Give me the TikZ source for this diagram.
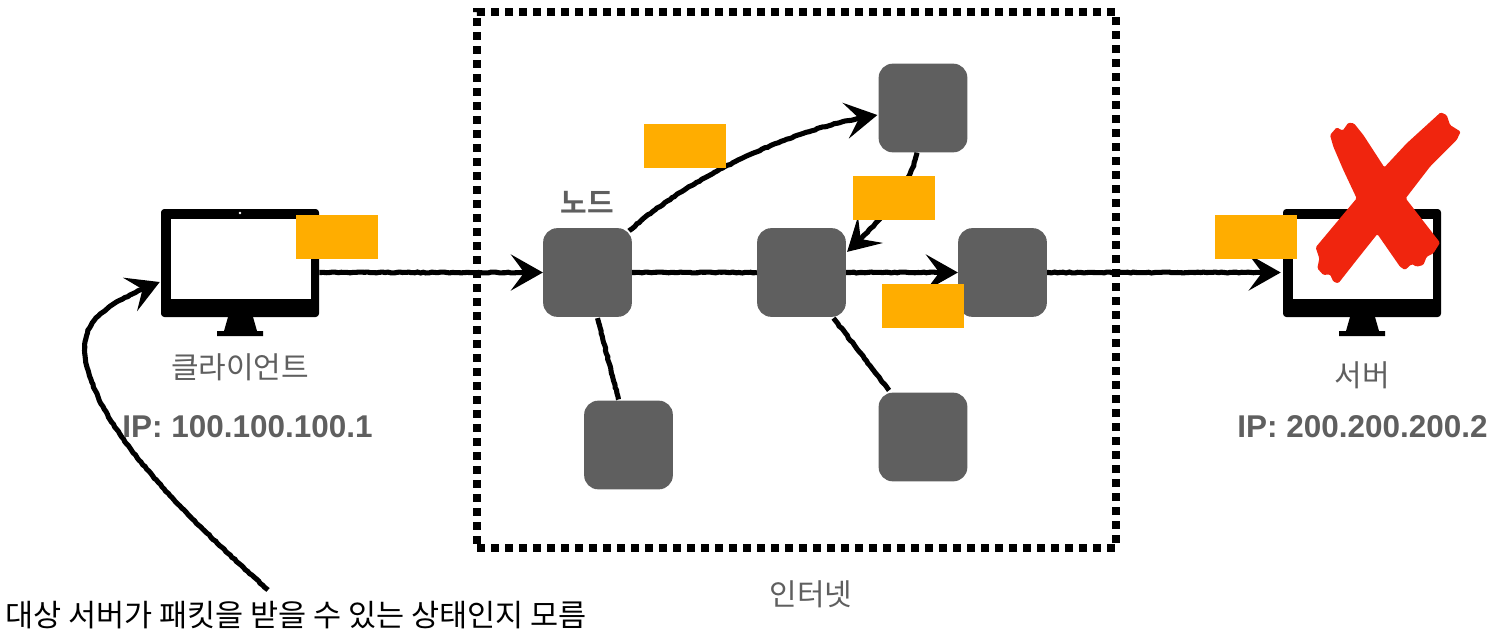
\documentclass[tikz,border=0pt]{standalone}
\usepackage{fontspec}
\setmainfont{Liberation Sans}
\newfontfamily\kr{Noto Sans CJK KR}
\newfontfamily\krb{Noto Sans CJK KR}[BoldFont={* Bold}]
\usetikzlibrary{arrows.meta,decorations.pathmorphing,calc}
\definecolor{nodegray}{HTML}{5F5F5F}
\definecolor{pkt}{HTML}{FFAD00}
\definecolor{xred}{HTML}{F0250E}
\pgfmathsetseed{7}
\tikzset{
  x=0.75pt,y=-0.75pt,
  netnode/.style={draw=none,fill=nodegray,rounded corners=10.5pt,minimum width=66.5pt,minimum height=66.5pt,inner sep=0},
  packet/.style={fill=pkt,draw=none,minimum width=61.5pt,minimum height=33pt,inner sep=0},
  screen/.style={fill=black,rounded corners=2.5pt,minimum width=118.5pt,minimum height=81pt,inner sep=0},
  rough/.style={line width=3.8pt,black,decorate,decoration={random steps,segment length=2.2pt,amplitude=.35pt,pre length=1pt,post length=14pt}},
  tipped/.style={rough,-{Stealth[length=24pt,width=27pt,inset=10pt]}},
  lbl/.style={text=nodegray,font=\kr\fontsize{22.5}{26}\selectfont,inner sep=0},
  ipl/.style={text=nodegray,font=\bfseries\fontsize{23.6}{26}\selectfont,inner sep=0},
}
\newcommand{\monitor}[3]{%
  \node[screen] (#1) at (#2,#3) {};
  \fill[white] (#2-69.5,#3-44.5) rectangle (#2+70.5,#3+35.5);
  \fill[black] (#2-12,#3+54) -- (#2+13,#3+54) -- (#2+17,#3+68) -- (#2+23,#3+68) -- (#2+23,#3+73) -- (#2-23,#3+73) -- (#2-23,#3+68) -- (#2-16,#3+68) -- cycle;
}
\begin{document}
\begin{tikzpicture}
\useasboundingbox (0,0) rectangle (1502,643);
\node[draw=black,line width=5.8pt,dash pattern=on 6pt off 4.5pt,minimum width=479.25pt,minimum height=402pt,inner sep=0] (net) at (796.5,280) {};
\monitor{client}{240}{263}
\fill[white] (240,213) circle (1.3);
\monitor{server}{1362}{263}
\node[netnode] (a) at (587.5,272.5) {};
\node[netnode] (b) at (801.5,272.5) {};
\node[netnode] (c) at (1002.5,272.5) {};
\node[netnode] (top) at (923,108) {};
\node[netnode] (botl) at (628.5,445) {};
\node[netnode] (botr) at (923,437) {};
\coordinate (noteend) at (268,590);
\draw[tipped] (client.east |- a.west) -- (a.west);
\draw[rough,decoration={post length=0pt}] (a.east) -- (b.west);
\draw[tipped] (b.east) -- (c.west);
\draw[tipped] (c.east) -- ($(server.west |- c.east)+(-2,0)$);
\draw[tipped] (a.north east) ++(-3,3) .. controls (680,185) and (780,130) .. ($(top.west)+(-1,7)$);
\draw[tipped] ($(top.south)+(-6,0)$) .. controls (911,185) and (880,222) .. ($(b.north east)+(1,24)$);
\draw[rough,decoration={post length=0pt}] ($(a.south)+(10,1)$) -- ($(botl.north)+(-10,-1)$);
\draw[rough,decoration={post length=0pt}] ($(b.south)+(32,1)$) -- ($(botr.north)+(-34,-2)$);
\draw[tipped] (noteend) .. controls (190,520) and (120,450) .. (95,390) .. controls (70,330) and (90,310) .. ($(client.west)+(-1,19)$);
\node[packet] (p1) at (337,237) {};
\node[packet] (p2) at (685,146) {};
\node[packet] (p3) at (894,198) {};
\node[packet] (p4) at (923,306) {};
\node[packet] (p5) at (1256,237) {};
\begin{scope}[shift={(1200,90)},x=0.25pt,y=-0.25pt]
\fill[xred,rounded corners=1pt] (390,135) -- (410,112) -- (428,122) -- (445,98) -- (462,100) -- (490,135) -- (553,232) -- (620,160) -- (722,67) -- (740,75) -- (750,105) -- (782,125) -- (770,150) -- (690,230) -- (617,325) -- (720,458) -- (700,490) -- (680,500) -- (670,525) -- (650,530) -- (635,522) -- (615,540) -- (600,530) -- (532,432) -- (470,510) -- (415,580) -- (400,575) -- (390,553) -- (370,555) -- (352,535) -- (358,505) -- (347,472) -- (470,325) -- (430,240) -- (400,170) -- cycle;
\end{scope}
\node[lbl] (t1) at (240,367) {클라이언트};
\node[ipl] (t2) at (247.5,427) {IP: 100.100.100.1};
\node[lbl,font=\krb\bfseries\fontsize{21.7}{24}\selectfont] (t3) at (587,202) {노드};
\node[lbl] (t4) at (1362,375) {서버};
\node[ipl] (t5) at (1362.5,427) {IP: 200.200.200.2};
\node[lbl] (t6) at (811,594) {인터넷};
\node[anchor=west,inner sep=0,font=\kr\fontsize{22.9}{24}\selectfont] (t7) at (5,615) {대상 서버가 패킷을 받을 수 있는 상태인지 모름};
\end{tikzpicture}
\end{document}
